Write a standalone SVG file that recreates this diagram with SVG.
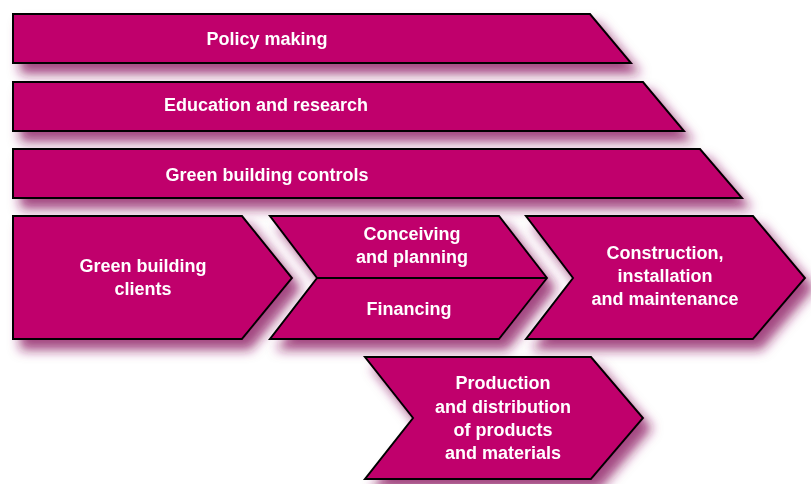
<svg xmlns="http://www.w3.org/2000/svg" width="811" height="484" viewBox="0 0 811 484">
<defs>
<filter id="sh" x="-10%" y="-20%" width="130%" height="170%">
<feDropShadow dx="8" dy="10" stdDeviation="6" flood-color="#8c1a62" flood-opacity="0.8"/>
</filter>
</defs>
<style>
.s{fill:#c0006c;stroke:#000;stroke-width:2;stroke-linejoin:miter}
.t{fill:#fff;font-family:"Liberation Sans",Arial,sans-serif;font-weight:bold;font-size:18px;text-anchor:middle}
</style>
<rect width="811" height="484" fill="#fff"/>
<g id="policy" filter="url(#sh)">
<polygon class="s" points="13,14 590,14 631,63 13,63"/>
<text class="t" x="267" y="45">Policy making</text>
</g>
<g id="education" filter="url(#sh)">
<polygon class="s" points="13,82 643,82 684,131 13,131"/>
<text class="t" x="266" y="111">Education and research</text>
</g>
<g id="controls" filter="url(#sh)">
<polygon class="s" points="13,149 700,149 742,198 13,198"/>
<text class="t" x="267" y="181">Green building controls</text>
</g>
<g id="clients" filter="url(#sh)">
<polygon class="s" points="13,216 242,216 292,278 242,339 13,339"/>
<text class="t" x="143" y="272">Green building</text>
<text class="t" x="143" y="295">clients</text>
</g>
<g id="conceiving" filter="url(#sh)">
<polygon class="s" points="270,216 499,216 547,278 499,339 270,339 317,278"/>
<line x1="317" y1="278" x2="547" y2="278" stroke="#000" stroke-width="2"/>
<text class="t" x="412" y="240">Conceiving</text>
<text class="t" x="412" y="263">and planning</text>
<text class="t" x="409" y="315">Financing</text>
</g>
<g id="construction" filter="url(#sh)">
<polygon class="s" points="526,216 753,216 805,278 753,339 526,339 573,278"/>
<text class="t" x="665" y="259">Construction,</text>
<text class="t" x="665" y="282">installation</text>
<text class="t" x="665" y="305">and maintenance</text>
</g>
<g id="production" filter="url(#sh)">
<polygon class="s" points="365,357 591,357 643,418 591,479 365,479 413,418"/>
<text class="t" x="503" y="389">Production</text>
<text class="t" x="503" y="413">and distribution</text>
<text class="t" x="503" y="436">of products</text>
<text class="t" x="503" y="459">and materials</text>
</g>
<g id="connectors"/>
</svg>
